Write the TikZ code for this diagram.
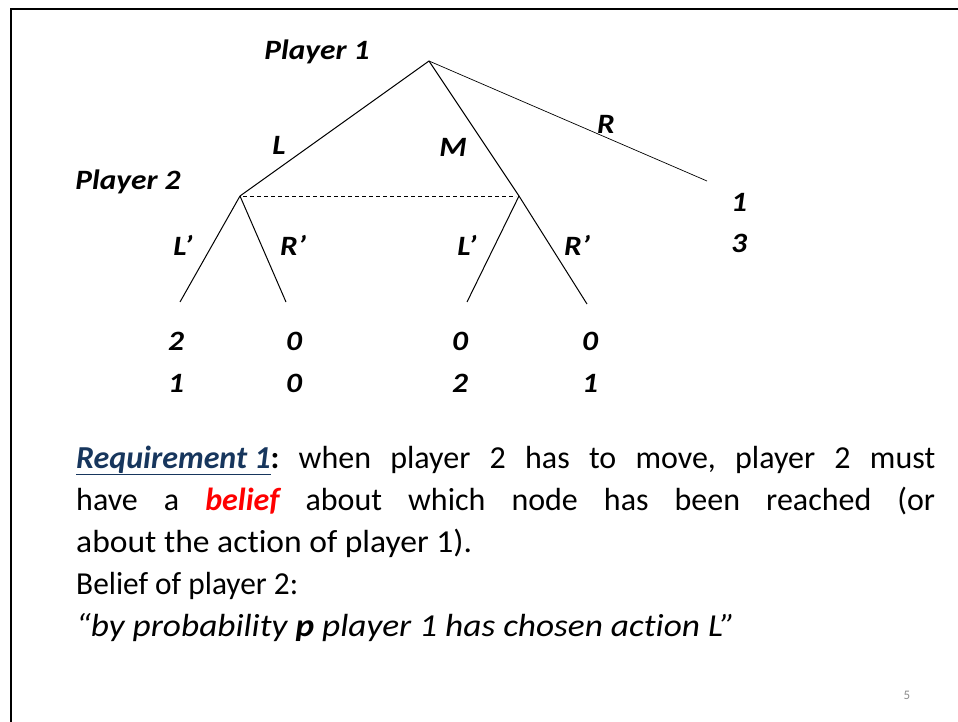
\documentclass[tikz,border=0pt]{standalone}
\usepackage{fontspec}
\setmainfont[Ligatures={TeX,NoCommon}]{Carlito}
\usepackage{xcolor}
\usepackage{graphicx}
\usetikzlibrary{positioning}
\definecolor{reqblue}{HTML}{17365D}
\definecolor{pagegray}{HTML}{8C8C8C}
\newcommand{\widelbl}[1]{\scalebox{1.12}[1]{#1}}
\frenchspacing

\begin{document}
\begin{tikzpicture}[x=1pt,y=-1pt,
  lbl/.style={font=\fontsize{28}{32}\selectfont\bfseries\itshape,inner sep=0pt},
  txt/.style={font=\fontsize{32}{42}\selectfont,inner sep=0pt,anchor=base west},
  branch/.style={line width=1pt},
  infoset/.style={line width=0.8pt,dash pattern=on 4pt off 3pt}]
  \useasboundingbox (0,0) rectangle (958,722);
  % slide frame
  \draw[line width=1.6pt] (11,722) -- (11,9) -- (958,9);

  % decision nodes and ends
  \coordinate (p1) at (429,61);
  \coordinate (p2a) at (240,196);
  \coordinate (p2b) at (519,196);
  \coordinate (endR) at (707,181);
  \coordinate (aL) at (180,302);
  \coordinate (aR) at (286,302);
  \coordinate (bL) at (467,302);
  \coordinate (bR) at (587,304);

  \draw[branch] (p1) -- (p2a);
  \draw[branch] (p1) -- (p2b);
  \draw[line width=0.7pt] (p1) -- (endR);
  \draw[branch] (p2a) -- (aL);
  \draw[branch] (p2a) -- (aR);
  \draw[branch] (p2b) -- (bL);
  \draw[branch] (p2b) -- (bR);
  \draw[infoset] ([xshift=3pt]p2a) -- ([xshift=-3pt]p2b);

  % labels
  \node[lbl] (pl1) at (317,52) {\widelbl{Player 1}};
  \node[lbl] (pl2) at (128,182) {\widelbl{Player 2}};
  \node[lbl] (actL) at (279,145) {\widelbl{L}};
  \node[lbl] (actM) at (453,147) {\widelbl{M}};
  \node[lbl] (actR) at (606,124) {\widelbl{R}};
  \node[lbl] (aLl) at (183,245) {\widelbl{L’}};
  \node[lbl] (aRl) at (293,245) {\widelbl{R’}};
  \node[lbl] (bLl) at (467,245) {\widelbl{L’}};
  \node[lbl] (bRl) at (577,245) {\widelbl{R’}};

  % payoffs
  \node[lbl] (uR1) at (739,202) {\widelbl{1}};
  \node[lbl] (uR2) at (739,243) {\widelbl{3}};
  \node[lbl] (uaL1) at (176,341) {\widelbl{2}};
  \node[lbl] (uaL2) at (176,383) {\widelbl{1}};
  \node[lbl] (uaR1) at (294,341) {\widelbl{0}};
  \node[lbl] (uaR2) at (294,383) {\widelbl{0}};
  \node[lbl] (ubL1) at (460,341) {\widelbl{0}};
  \node[lbl] (ubL2) at (460,383) {\widelbl{2}};
  \node[lbl] (ubR1) at (590,341) {\widelbl{0}};
  \node[lbl] (ubR2) at (590,383) {\widelbl{1}};

  % text below the tree
  \node[txt] (t1) at (76,468) {\makebox[859pt][s]{\textcolor{reqblue}{\bfseries\itshape\underline{Requirement 1}}\textbf{:} when player 2 has to move, player 2 must}};
  \node[txt] (t2) at (76,510) {\makebox[859pt][s]{have a \textcolor{red}{\bfseries\itshape belief} about which node has been reached (or}};
  \node[txt] (t3) at (76,552) {\resizebox{396pt}{\height}{about the action of player 1).}};
  \node[txt] (t4) at (76,594) {\resizebox{222pt}{\height}{Belief of player 2:}};
  \node[txt] (t5) at (76,636) {\resizebox{659pt}{\height}{\itshape “by probability \textbf{p} player 1 has chosen action L”}};

  \node[font=\fontsize{13}{15}\selectfont,text=pagegray,inner sep=0pt] (pg) at (907,695) {5};
\end{tikzpicture}
\end{document}
